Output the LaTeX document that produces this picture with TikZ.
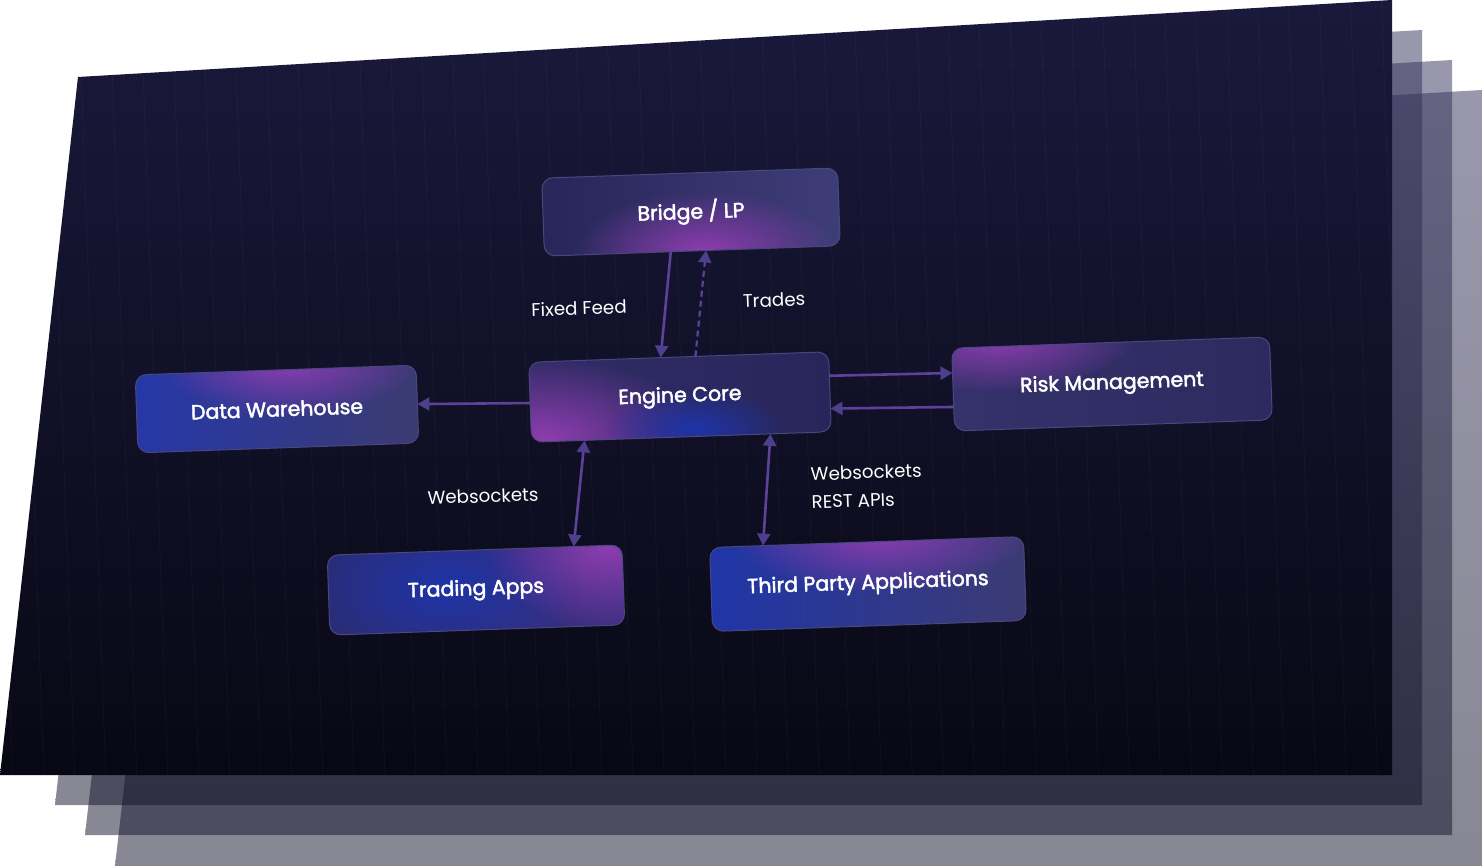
\documentclass[tikz,border=0pt]{standalone}
\usepackage{fontspec}
\setmainfont{Poppins}
\newfontfamily\boxfont{Poppins}[FakeBold=2.2]
\usetikzlibrary{arrows.meta,calc,fadings}
\tikzfading[name=glowfade, inner color=transparent!0, outer color=transparent!100]
\definecolor{pantop}{HTML}{35315B}
\definecolor{panbot}{HTML}{12122A}
\definecolor{fronttop}{HTML}{1A193C}
\definecolor{frontmid}{HTML}{1E1C41}
\definecolor{frontbot}{HTML}{080814}
\definecolor{glowpurple}{HTML}{8E3DB0}
\definecolor{glowblue}{HTML}{1E34A8}
\definecolor{arrowc}{HTML}{5C4399}
\definecolor{headc}{HTML}{4D3F8C}
\definecolor{boxedge}{HTML}{4A477F}
\newcommand\boxbg[2]{\definecolor{bga}{HTML}{#1}\definecolor{bgb}{HTML}{#2}%
  \fill[left color=bga,right color=bgb] (path picture bounding box.south west) rectangle (path picture bounding box.north east);}
\newcommand\boxglow[5]{%
  \coordinate (gpx) at ($(path picture bounding box.south west)!#2!(path picture bounding box.south east)$);
  \coordinate (gpy) at ($(path picture bounding box.south west)!#3!(path picture bounding box.north west)$);
  \fill[#1,path fading=glowfade] (gpx |- gpy) ellipse [x radius=#4, y radius=#5];}
\begin{document}
\begin{tikzpicture}[x=1pt,y=-1pt,
  backpanel/.style={top color=pantop,bottom color=panbot,fill opacity=0.5},
  gridline/.style={draw=white,opacity=0.035,line width=0.8pt},
  box/.style={rounded corners=11pt,draw=boxedge,line width=1pt,text=white,
    font=\boxfont\fontsize{20.5}{24}\selectfont,inner sep=0pt,outer sep=0pt,rotate=2},
  lab/.style={text=white,font=\fontsize{18.3}{28}\selectfont,inner sep=0pt,rotate=2},
  conn/.style={draw=arrowc,line width=2.6pt},
  tip/.style={-{Triangle[length=12pt,width=13pt,color=headc]}},
  tips/.style={{Triangle[length=12pt,width=13pt,color=headc]}-{Triangle[length=12pt,width=13pt,color=headc]}}
]
\useasboundingbox (0,0) rectangle (1482,866);
\fill[white] (0,0) rectangle (1482,866);
% stacked back panels
\shade[backpanel] (195,165) -- (1482,90) -- (1482,866) -- (115,866) -- cycle;
\shade[backpanel] (165,135) -- (1452,60) -- (1452,835) -- (85,835) -- cycle;
\shade[backpanel] (135,105) -- (1422,30) -- (1422,805) -- (55,805) -- cycle;
% front panel
\shade[top color=fronttop,middle color=frontmid,bottom color=frontbot] (78,77) -- (1392,0) -- (1392,775) -- (0,775) -- cycle;
\begin{scope}
  \clip (78,77) -- (1392,0) -- (1392,775) -- (0,775) -- cycle;
  \draw[gridline,rotate around={2:(700,400)},step=31] (-200,-200) grid (1700,1000);
\end{scope}
% boxes
\node[box,minimum width=296pt,minimum height=78pt,path picture={\boxbg{272659}{3E3D78}\boxglow{glowpurple}{0.55}{0.0}{130}{60}}] (bridge) at (691,212) {Bridge / LP};
\node[box,minimum width=300pt,minimum height=80pt,path picture={\boxbg{302C66}{27265A}\boxglow{glowpurple}{0.05}{0.05}{160}{80}\boxglow{glowblue}{0.55}{0.1}{90}{40}}] (engine) at (680,397) {Engine Core};
\node[box,minimum width=281pt,minimum height=78pt,path picture={\boxbg{2538A8}{3C3A70}\boxglow{glowpurple}{0.55}{1.0}{130}{55}}] (dw) at (277,409) {Data Warehouse};
\node[box,minimum width=318pt,minimum height=83pt,path picture={\boxbg{35326C}{2C2A5E}\boxglow{glowpurple}{0.15}{1.0}{140}{55}}] (risk) at (1112,384) {Risk Management};
\node[box,minimum width=295pt,minimum height=80pt,path picture={\boxbg{2A2C72}{3A2F80}\boxglow{glowblue}{0.4}{0.5}{140}{75}\boxglow{glowpurple}{0.95}{0.9}{120}{85}}] (trading) at (476,590) {Trading Apps};
\node[box,minimum width=314pt,minimum height=84pt,path picture={\boxbg{1F35A8}{3C3B72}\boxglow{glowpurple}{0.55}{1.0}{150}{60}}] (third) at (868,584) {Third Party Applications};
% connectors
\draw[conn,tip] ($(bridge.south west)!0.427!(bridge.south east)$) -- ($(engine.north west)!0.44!(engine.north east)$);
\draw[conn,tip,dash pattern=on 6pt off 4pt,line width=2.2pt] ($(engine.north west)!0.556!(engine.north east)$) -- ($(bridge.south west)!0.546!(bridge.south east)$);
\draw[conn,tip] ($(engine.north east)!0.3!(engine.south east)$) -- ($(risk.north west)!0.3!(risk.south west)$);
\draw[conn,tip] ($(risk.north west)!0.71!(risk.south west)$) -- ($(engine.north east)!0.71!(engine.south east)$);
\draw[conn,tip] ($(engine.north west)!0.51!(engine.south west)$) -- ($(dw.north east)!0.5!(dw.south east)$);
\draw[conn,tips] ($(engine.south west)!0.177!(engine.south east)$) -- ($(trading.north west)!0.836!(trading.north east)$);
\draw[conn,tips] ($(engine.south west)!0.797!(engine.south east)$) -- ($(third.north west)!0.17!(third.north east)$);
% labels
\node[lab] (lfeed) at (579,308) {Fixed Feed};
\node[lab] (ltrades) at (774,300) {Trades};
\node[lab] (lws) at (483,496) {Websockets};
\node[lab,anchor=west,align=left] (lwsrest) at (811,488) {Websockets\\REST APIs};
\end{tikzpicture}
\end{document}
